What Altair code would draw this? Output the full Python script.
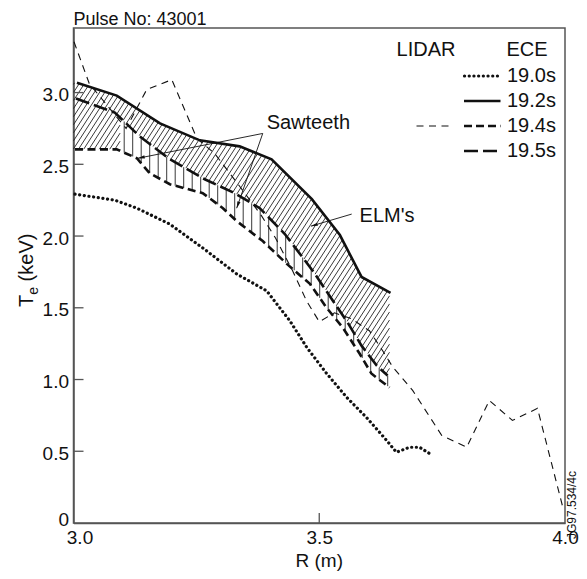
import altair as alt
import numpy as np
import pandas as pd

# ---------------- data ----------------
# ECE 19.0s (dotted)
R_190 = [3.003, 3.084, 3.129, 3.196, 3.263, 3.332, 3.393, 3.440, 3.475, 3.515, 3.556, 3.596, 3.637, 3.657, 3.684, 3.704, 3.727]
T_190 = [2.292, 2.250, 2.194, 2.083, 1.917, 1.736, 1.618, 1.410, 1.222, 1.042, 0.875, 0.736, 0.576, 0.493, 0.528, 0.528, 0.479]
# ECE 19.2s (solid)
R_192 = [3.007, 3.088, 3.176, 3.257, 3.338, 3.403, 3.485, 3.542, 3.586, 3.645]
T_192 = [3.069, 2.979, 2.785, 2.667, 2.625, 2.535, 2.257, 2.007, 1.715, 1.604]
# ECE 19.4s (heavy short dash)
R_194 = [3.003, 3.088, 3.129, 3.155, 3.196, 3.263, 3.304, 3.332, 3.385, 3.434, 3.481, 3.515, 3.548, 3.582, 3.606, 3.643]
T_194 = [2.604, 2.604, 2.542, 2.438, 2.361, 2.299, 2.194, 2.104, 1.965, 1.806, 1.667, 1.500, 1.361, 1.181, 1.042, 0.944]
# ECE 19.5s (long dash)
R_195 = [3.005, 3.084, 3.135, 3.196, 3.267, 3.328, 3.379, 3.430, 3.487, 3.525, 3.558, 3.586, 3.617, 3.639]
T_195 = [2.958, 2.861, 2.694, 2.535, 2.396, 2.299, 2.194, 2.014, 1.757, 1.563, 1.396, 1.236, 1.097, 1.028]
# LIDAR 19.4s (thin dash)
R_lidar = [3.001, 3.032, 3.107, 3.149, 3.200, 3.251, 3.287, 3.338, 3.383, 3.411, 3.446, 3.474, 3.500,
           3.531, 3.565, 3.602, 3.629, 3.649, 3.690, 3.749, 3.800, 3.846, 3.893, 3.944, 3.997]
T_lidar = [3.354, 3.063, 2.750, 3.021, 3.090, 2.681, 2.576, 2.347, 2.139, 1.986, 1.757, 1.549, 1.403,
           1.465, 1.424, 1.340, 1.201, 1.090, 0.924, 0.611, 0.528, 0.854, 0.715, 0.799, 0.090]

x_ticks = [3.0, 3.5, 4.0]
y_ticks = [0, 0.5, 1.0, 1.5, 2.0, 2.5, 3.0]
ece_labels = ["19.0s", "19.2s", "19.4s", "19.5s"]

# annotations (data coordinates)
saw_label = "Sawteeth"
saw_pos = [3.393, 2.785]
saw_from = [3.385, 2.715]
saw_tips_R = [3.131, 3.332]
saw_tips_T = [2.542, 2.194]
elm_label = "ELM's"
elm_pos = [3.582, 2.139]
elm_from = [3.566, 2.153]
elm_tip = [3.483, 2.069]
hatch_split_R = 3.095
hatch_end_R = 3.643

# ---------------- layout ----------------
W, H, YMAX = 491.5, 495, 3.45
FONT = "Liberation Sans"
INK = "#111111"

xs = alt.Scale(domain=[3.0, 4.0], nice=False, zero=False)
ys = alt.Scale(domain=[0, YMAX], nice=False, zero=False)
xaxis = alt.Axis(values=x_ticks, format=".1f", ticks=False, labelPadding=5, grid=False, title=None,
                 labelFlush=False,
                 labelOffset={"condition": {"test": "datum.value < 3.25", "value": 6}, "value": 0})
yaxis = alt.Axis(values=y_ticks, ticks=False, labelPadding=5, grid=False, title=None,
                 labelExpr="datum.value == 0 ? '0' : format(datum.value, '.1f')",
                 labelOffset={"condition": {"test": "datum.value < 0.25", "value": -4}, "value": 2})


def X(f):
    return alt.X(f"{f}:Q", scale=xs, axis=xaxis)


def Y(f):
    return alt.Y(f"{f}:Q", scale=ys, axis=yaxis)


def to_px(R, T):
    return (np.asarray(R, float) - 3.0) * W, (YMAX - np.asarray(T, float)) * H / YMAX


def to_data(px, py):
    return 3.0 + np.asarray(px) / W, YMAX - np.asarray(py) * YMAX / H


# ---------------- hatching derived from the curves ----------------
px192, py192 = to_px(R_192, T_192)
px194, py194 = to_px(R_194, T_194)
px195, py195 = to_px(R_195, T_195)
x_split = (hatch_split_R - 3.0) * W
x_end = (hatch_end_R - 3.0) * W

grid = np.arange(0.0, x_end + 0.001, 0.2)
upper_a = np.interp(grid, px192, py192)
lower_a = np.where(grid < x_split, np.interp(grid, px194, py194), np.interp(grid, px195, py195))

slope, spacing = 1.55, 5.2
segs = []
c_lo = (upper_a + slope * grid).min()
c_hi = (lower_a + slope * grid).max()
k0 = int(np.floor(c_lo / (slope * spacing)))
k1 = int(np.ceil(c_hi / (slope * spacing)))
for k in range(k0, k1 + 1):
    c = k * slope * spacing
    line = c - slope * grid
    inside = (line >= upper_a) & (line <= lower_a)
    idx = np.flatnonzero(inside)
    if idx.size < 2:
        continue
    breaks = np.flatnonzero(np.diff(idx) > 1)
    starts = np.r_[idx[0], idx[breaks + 1]]
    ends = np.r_[idx[breaks], idx[-1]]
    for s, e in zip(starts, ends):
        if e > s:
            segs.append((grid[s], line[s], grid[e], line[e]))

# vertical hatch between 19.5 and 19.4 (sawteeth band)
for xv in np.arange(x_split + 4, x_end, 8.5):
    up = np.interp(xv, px195, py195)
    lo = np.interp(xv, px194, py194)
    if lo - up > 1.5:
        segs.append((xv, up, xv, lo))

segs = np.array(segs)
hx0, hy0 = to_data(segs[:, 0], segs[:, 1])
hx1, hy1 = to_data(segs[:, 2], segs[:, 3])
hatch_df = pd.DataFrame({"x0": hx0, "y0": hy0, "x1": hx1, "y1": hy1})

hatch = alt.Chart(hatch_df).mark_rule(color="#222222", strokeWidth=0.9).encode(
    x=X("x0"), y=Y("y0"), x2="x1:Q", y2="y1:Q")


# ---------------- series ----------------
def series(R, T, **mk):
    df = pd.DataFrame({"R": R, "T": T, "i": range(len(R))})
    return alt.Chart(df).mark_line(color=INK, **mk).encode(x=X("R"), y=Y("T"), order="i:Q")


DOT = dict(strokeDash=[0.1, 4.6], strokeCap="round", strokeWidth=3.2)
SOLID = dict(strokeWidth=2.6)
SHORT = dict(strokeDash=[8, 4.5], strokeWidth=2.6)
LONG = dict(strokeDash=[14, 5], strokeWidth=2.6)
THIN = dict(strokeDash=[7, 5.5], strokeWidth=1.1)

l190 = series(R_190, T_190, **DOT)
l192 = series(R_192, T_192, **SOLID)
l194 = series(R_194, T_194, **SHORT)
l195 = series(R_195, T_195, **LONG)
llid = series(R_lidar, T_lidar, **THIN)

# ---------------- inward ticks ----------------
ytick = alt.Chart(pd.DataFrame({"T": [v for v in y_ticks if v > 0]})).mark_rule(
    color="#555555", strokeWidth=1.3).encode(y=Y("T"), x=alt.value(0), x2=alt.value(10))
xtick = alt.Chart(pd.DataFrame({"R": [v for v in x_ticks if 3.0 < v < 4.0]})).mark_rule(
    color="#555555", strokeWidth=1.3).encode(x=X("R"), y=alt.value(H), y2=alt.value(H - 10))

# ---------------- annotations ----------------
arrow_df = pd.DataFrame({
    "R": [saw_from[0], saw_from[0], elm_from[0]],
    "T": [saw_from[1], saw_from[1], elm_from[1]],
    "R2": [saw_tips_R[0], saw_tips_R[1], elm_tip[0]],
    "T2": [saw_tips_T[0], saw_tips_T[1], elm_tip[1]],
})
fx, fy = to_px(arrow_df["R"], arrow_df["T"])
tx, ty = to_px(arrow_df["R2"], arrow_df["T2"])
arrow_df["ang"] = np.degrees(np.arctan2(tx - fx, -(ty - fy))) % 360

arrow_lines = alt.Chart(arrow_df).mark_rule(color=INK, strokeWidth=0.9).encode(
    x=X("R"), y=Y("T"), x2="R2:Q", y2="T2:Q")
arrow_heads = alt.Chart(arrow_df).mark_point(
    shape="M0,0L-0.3,1.25L0.3,1.25Z", filled=True, size=120, color=INK, opacity=1, strokeWidth=0
).encode(x=X("R2"), y=Y("T2"), angle=alt.Angle("ang:Q", scale=None))

ann_df = pd.DataFrame({"R": [saw_pos[0], elm_pos[0]], "T": [saw_pos[1], elm_pos[1]],
                       "t": [saw_label, elm_label]})
ann_text = alt.Chart(ann_df).mark_text(font=FONT, fontSize=20, align="left", baseline="middle",
                                       color=INK).encode(x=X("R"), y=Y("T"), text="t:N")


def ptext(txt, x, y, size=20, align="left", baseline="middle", angle=0):
    return alt.Chart(pd.DataFrame({"t": [txt]})).mark_text(
        font=FONT, fontSize=size, align=align, baseline=baseline, angle=angle, color=INK
    ).encode(x=alt.value(x), y=alt.value(y), text="t:N")


def lline(x0, x1, y, **mk):
    return alt.Chart(pd.DataFrame({"k": [0]})).mark_rule(color=INK, **mk).encode(
        x=alt.value(x0), x2=alt.value(x1), y=alt.value(y))


rows_y = [48, 73, 98, 123]
legend = [
    ptext("LIDAR", 352.5, 22, align="center"),
    ptext("ECE", 453.5, 22, align="center"),
    lline(391, 427, rows_y[0], **DOT),
    lline(390.5, 427, rows_y[1], **SOLID),
    lline(390.5, 427, rows_y[2], strokeDash=[8, 4], strokeWidth=2.6),
    lline(390.5, 427, rows_y[3], strokeDash=[14, 5], strokeWidth=2.6),
    lline(343, 376, rows_y[2], strokeDash=[7, 5.5], strokeWidth=1.1),
]
for lab, yy in zip(ece_labels, rows_y):
    legend.append(ptext(lab, 433.5, yy))

titles = [
    ptext("Pulse No: 43001", 0, -3, size=18, baseline="alphabetic"),
    ptext("R (m)", W / 2, H + 44, size=19, align="center", baseline="alphabetic"),
    ptext("T", -40.5, 279, angle=270, baseline="alphabetic"),
    ptext("e", -36.0, 266.8, size=14, angle=270, baseline="alphabetic"),
    ptext("(keV)", -40.5, 253.4, angle=270, baseline="alphabetic"),
    ptext("JG97.534/4c", 498.5, 477, size=12, align="center", angle=270),
]

chart = alt.layer(
    hatch, llid, l190, l192, l194, l195, ytick, xtick,
    arrow_lines, arrow_heads, ann_text, *legend, *titles
).properties(
    width=W, height=H,
    padding={"left": 65.5, "top": 20, "right": 14, "bottom": 48},
    autosize=alt.AutoSizeParams(type="none"),
).configure_view(
    stroke="#555555", strokeWidth=1.5
).configure_axis(
    labelFont=FONT, labelFontSize=19, labelColor=INK, domainColor="#555555", domainWidth=1.5
)

chart.save("out.html", embed_options={"renderer": "svg", "actions": False})
